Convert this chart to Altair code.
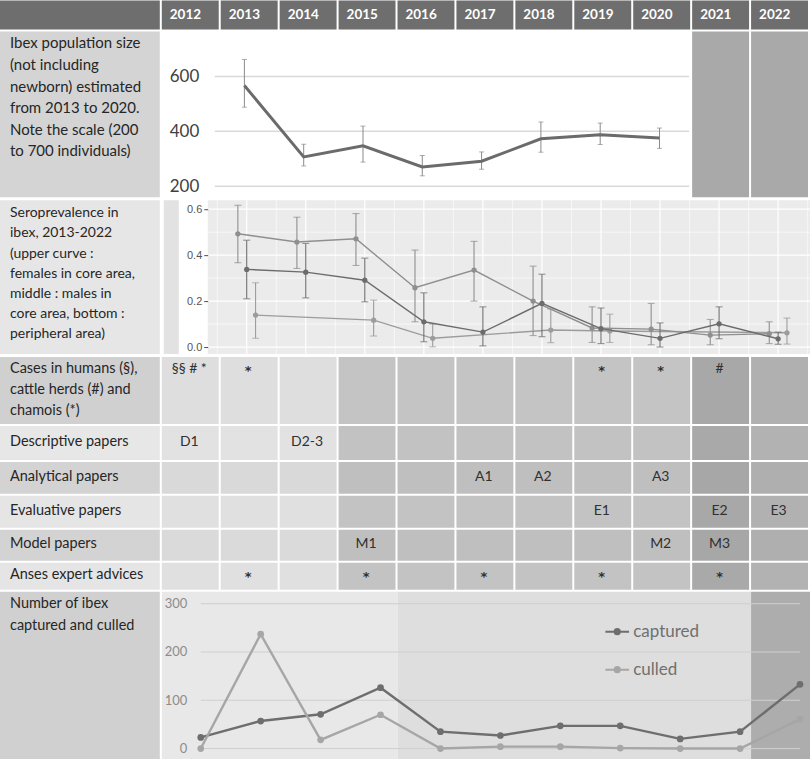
import altair as alt
import pandas as pd

# ---------------- data ----------------
years = [2012, 2013, 2014, 2015, 2016, 2017, 2018, 2019, 2020, 2021, 2022]

pop_years = [2013, 2014, 2015, 2016, 2017, 2018, 2019, 2020]
pop_size = [567, 307, 347, 270, 291, 373, 388, 376]
pop_low = [488, 274, 288, 238, 262, 324, 352, 338]
pop_high = [662, 353, 419, 312, 325, 434, 430, 412]
pop_ticks = [200, 400, 600]

sero_years = [2013, 2014, 2015, 2016, 2017, 2018, 2019, 2020, 2021, 2022]
fem_core = [0.493, 0.457, 0.471, 0.258, 0.335, 0.200, 0.083, 0.078, 0.052, 0.058]
fem_low = [0.367, 0.342, 0.355, 0.110, 0.200, 0.050, 0.020, 0.010, 0.010, 0.015]
fem_high = [0.617, 0.565, 0.581, 0.422, 0.460, 0.352, 0.175, 0.190, 0.120, 0.110]
male_core = [0.338, 0.326, 0.291, 0.110, 0.065, 0.190, 0.080, 0.038, 0.101, 0.036]
male_low = [0.210, 0.214, 0.197, 0.023, 0.005, 0.045, 0.015, 0.000, 0.036, 0.012]
male_high = [0.465, 0.451, 0.387, 0.236, 0.175, 0.317, 0.170, 0.105, 0.175, 0.065]
peri_years = [2013, 2015, 2016, 2018, 2019, 2022]
peri = [0.139, 0.117, 0.038, 0.074, 0.070, 0.062]
peri_low = [0.038, 0.048, 0.001, 0.019, 0.020, 0.013]
peri_high = [0.280, 0.204, 0.100, 0.165, 0.143, 0.126]
sero_ticks = [0.0, 0.2, 0.4, 0.6]
sero_minor = [0.1, 0.3, 0.5]

captured = [23, 57, 71, 126, 35, 27, 47, 47, 20, 35, 133]
culled = [0, 237, 18, 70, 0, 4, 4, 1, 0, 0, 61]
cull_ticks = [0, 100, 200, 300]
cull_series = ["captured", "culled"]

row_titles = {
    "pop": "Ibex population size\n(not including\nnewborn) estimated\nfrom 2013 to 2020.\nNote the scale (200\nto 700 individuals)",
    "sero": "Seroprevalence in\nibex, 2013-2022\n(upper curve :\nfemales in core area,\nmiddle : males in\ncore area, bottom :\nperipheral area)",
    "cases": "Cases in humans (§),\ncattle herds (#) and\nchamois (*)",
    "desc": "Descriptive papers",
    "anal": "Analytical papers",
    "eval": "Evaluative papers",
    "model": "Model papers",
    "anses": "Anses expert advices",
    "cull": "Number of ibex\ncaptured and culled",
}

cell_text = {
    "cases": {2012: "§§ # *", 2013: "*", 2019: "*", 2020: "*", 2021: "#"},
    "desc": {2012: "D1", 2014: "D2-3"},
    "anal": {2017: "A1", 2018: "A2", 2020: "A3"},
    "eval": {2019: "E1", 2021: "E2", 2022: "E3"},
    "model": {2015: "M1", 2020: "M2", 2021: "M3"},
    "anses": {2013: "*", 2015: "*", 2017: "*", 2019: "*", 2021: "*"},
}

# ---------------- layout / style ----------------
FONT = "Lato"
W = 811
LABEL_W = 162
COL_W = 59
GAP = 2
G = GAP / COL_W
X0 = 2011.5 - LABEL_W / COL_W

main_x = alt.Scale(domain=[X0, 2022.5], nice=False, zero=False)
POP_X = alt.Scale(domain=[2012.5, 2020.5], range=[215, 690], nice=False, zero=False)
SERO_DOM = [2012.34, 2022.54]
SERO_X = alt.Scale(domain=SERO_DOM, range=[208, 811], nice=False, zero=False)
CULL_X = alt.Scale(domain=[2012, 2022], range=[201, 801], nice=False, zero=False)
DODGE = 0.15

H = dict(header=29, pop=166, sero=154, cases=67, desc=34, anal=32, eval=32,
         model=31, anses=27, cull=169)

row_colors = {  # label, 2012-14, 2015-20, 2021, 2022
    "cases": ("#d0d0d0", "#dedede", "#c4c4c4", "#a8a8a8", "#b0b0b0"),
    "desc": ("#e7e7e7", "#e2e2e2", "#c2c2c2", "#a9a9a9", "#b2b2b2"),
    "anal": ("#d3d3d3", "#d9d9d9", "#bfbfbf", "#a7a7a7", "#afafaf"),
    "eval": ("#e5e5e5", "#e0e0e0", "#c3c3c3", "#a8a8a8", "#b1b1b1"),
    "model": ("#d3d3d3", "#dadada", "#bfbfbf", "#a7a7a7", "#afafaf"),
    "anses": ("#e5e5e5", "#e0e0e0", "#c3c3c3", "#a9a9a9", "#b2b2b2"),
}


def X(field="x", scale=main_x):
    return alt.X(f"{field}:Q", scale=scale, axis=None)


def bg_layer(label_color, segs):
    rows = [{"x": X0, "x2": 2011.5 - G, "c": label_color}]
    rows += [{"x": a, "x2": b - G, "c": c} for a, b, c in segs]
    return alt.Chart(pd.DataFrame(rows)).mark_rect().encode(
        x=X(), x2="x2:Q", fill=alt.Fill("c:N", scale=None))


def label_layer(key, height, fs=14.5, lh=21.5, top=None):
    df = pd.DataFrame({"x": [X0], "t": [row_titles[key]]})
    if top is None:
        mk = alt.Chart(df).mark_text(align="left", baseline="middle", dx=10, font=FONT,
                                     fontSize=fs, color="#262626")
        return mk.encode(x=X(), y=alt.value(height / 2 - 1), text="t:N")
    mk = alt.Chart(df).mark_text(align="left", baseline="top", dx=10, font=FONT,
                                 fontSize=fs, color="#262626", lineBreak="\n",
                                 lineHeight=lh)
    return mk.encode(x=X(), y=alt.value(top), text="t:N")


def year_segs(colfn):
    return [(y - 0.5, y + 0.5, colfn(y)) for y in years]


rows_out = []

# ---- header ----
hdr_bg = bg_layer("#6e6e6e", year_segs(lambda y: "#6e6e6e"))
hdr_txt = alt.Chart(pd.DataFrame({"x": [y - 0.5 for y in years],
                                  "t": [str(y) for y in years]})).mark_text(
    align="left", baseline="middle", dx=8, font=FONT, fontWeight="bold",
    fontSize=13.5, color="white").encode(x=X(), text="t:N")
rows_out.append(alt.layer(hdr_bg, hdr_txt).properties(width=W, height=H["header"]))

# ---- population row ----
pop_y_scale = alt.Scale(domain=[160, 764], nice=False, zero=False)
pop_axis = alt.Axis(values=pop_ticks, offset=-202, labelPadding=3, domain=False,
                    ticks=False, grid=False, labelFont=FONT, labelFontSize=17,
                    labelColor="#404040", title=None, zindex=1)
PY = alt.Y("v:Q", scale=pop_y_scale, axis=pop_axis)
pop_bg = bg_layer("#d4d4d4", [(2011.5, 2020.5, "#ffffff"), (2020.5, 2021.5, "#a9a9a9"),
                              (2021.5, 2022.5, "#a9a9a9")])
pop_grid = alt.Chart(pd.DataFrame({"v": pop_ticks, "x": [2012.5] * 3, "x2": [2020.5] * 3})
                     ).mark_rule(color="#d9d9d9", strokeWidth=1.5).encode(
    x=X("x", POP_X), x2="x2:Q", y=PY)
pop_df = pd.DataFrame({"x": pop_years, "v": pop_size, "lo": pop_low, "hi": pop_high})
pop_err = alt.Chart(pop_df).mark_rule(color="#8a8a8a", strokeWidth=1).encode(
    x=X("x", POP_X), y=alt.Y("lo:Q", scale=pop_y_scale, axis=pop_axis), y2="hi:Q")
caps_df = pd.DataFrame({"x": pop_years * 2, "v": pop_low + pop_high})
pop_caps = alt.Chart(caps_df).mark_tick(orient="horizontal", color="#8a8a8a",
                                        thickness=1, size=5).encode(x=X("x", POP_X), y=PY)
pop_line = alt.Chart(pop_df).mark_line(color="#6b6b6b", strokeWidth=3).encode(
    x=X("x", POP_X), y=PY)
pop_row = alt.layer(pop_bg, label_layer("pop", H["pop"], fs=15, lh=21.6, top=5),
                    pop_grid, pop_err, pop_caps, pop_line
                    ).resolve_scale(x="independent").properties(width=W, height=H["pop"])
rows_out.append(pop_row)

# ---- seroprevalence row ----
sero_y_scale = alt.Scale(domain=[-0.0304, 0.639], nice=False, zero=False)
sero_axis = alt.Axis(values=sero_ticks, format=".1f", offset=-208, labelPadding=2,
                     domain=False, ticks=True, tickSize=4, tickColor="#4d4d4d",
                     grid=False, labelFont="Liberation Sans", labelFontSize=11,
                     labelColor="#555555", title=None, zindex=1)
SY = alt.Y("v:Q", scale=sero_y_scale, axis=sero_axis)
sero_bg = bg_layer("#e6e6e6", [(2011.5, 2022.5 + G, "#ffffff")])
strip = alt.Chart(pd.DataFrame({"x": [X0 + 164 / COL_W], "x2": [X0 + 179 / COL_W]})
                  ).mark_rect(color="#e2e2e2").encode(x=X(), x2="x2:Q")
panel = alt.Chart(pd.DataFrame({"x": [SERO_DOM[0]], "x2": [SERO_DOM[1]]})
                  ).mark_rect(color="#ebebeb").encode(x=X("x", SERO_X), x2="x2:Q")
hgrid_minor = alt.Chart(pd.DataFrame({"v": sero_minor, "x": [SERO_DOM[0]] * 3,
                                      "x2": [SERO_DOM[1]] * 3})).mark_rule(
    color="white", strokeWidth=0.6).encode(x=X("x", SERO_X), x2="x2:Q", y=SY)
hgrid_major = alt.Chart(pd.DataFrame({"v": sero_ticks, "x": [SERO_DOM[0]] * 4,
                                      "x2": [SERO_DOM[1]] * 4})).mark_rule(
    color="white", strokeWidth=1.2).encode(x=X("x", SERO_X), x2="x2:Q", y=SY)
vgrid_minor = alt.Chart(pd.DataFrame({"x": [y + 0.5 for y in years]})).mark_rule(
    color="white", strokeWidth=0.6).encode(x=X("x", SERO_X))
vgrid_major = alt.Chart(pd.DataFrame({"x": sero_years})).mark_rule(
    color="white", strokeWidth=1.2).encode(x=X("x", SERO_X))

sero_layers = [sero_bg, strip, panel, hgrid_minor, hgrid_major, vgrid_minor, vgrid_major,
               label_layer("sero", H["sero"], fs=14, lh=20.2, top=6)]
series = [
    (peri_years, peri, peri_low, peri_high, +DODGE, "#9c9c9c"),
    (sero_years, fem_core, fem_low, fem_high, -DODGE, "#8f8f8f"),
    (sero_years, male_core, male_low, male_high, 0.0, "#6c6c6c"),
]
for yrs, val, lo, hi, dodge, col in series:
    d = pd.DataFrame({"x": [y + dodge for y in yrs], "v": val, "lo": lo, "hi": hi})
    c = pd.DataFrame({"x": [y + dodge for y in yrs] * 2, "v": lo + hi})
    sero_layers.append(alt.Chart(d).mark_rule(color=col, strokeWidth=1.1).encode(
        x=X("x", SERO_X), y=alt.Y("lo:Q", scale=sero_y_scale, axis=sero_axis), y2="hi:Q"))
    sero_layers.append(alt.Chart(c).mark_tick(orient="horizontal", color=col, thickness=1.1,
                                              size=7).encode(x=X("x", SERO_X), y=SY))
    sero_layers.append(alt.Chart(d).mark_line(color=col, strokeWidth=1.4).encode(
        x=X("x", SERO_X), y=SY))
    sero_layers.append(alt.Chart(d).mark_point(color=col, filled=True, size=28,
                                               opacity=1).encode(x=X("x", SERO_X), y=SY))
sero_row = alt.layer(*sero_layers).resolve_scale(x="independent").properties(
    width=W, height=H["sero"])
rows_out.append(sero_row)

# ---- table rows ----
for key in ["cases", "desc", "anal", "eval", "model", "anses"]:
    lab, light, mid, d21, d22 = row_colors[key]

    def colfn(y, light=light, mid=mid, d21=d21, d22=d22):
        if y <= 2014:
            return light
        if y <= 2020:
            return mid
        return d21 if y == 2021 else d22

    bg = bg_layer(lab, year_segs(colfn))
    lbl = label_layer(key, H[key], fs=14.5, lh=21, top=5 if key == "cases" else None)
    items = cell_text[key]
    words = {y: t for y, t in items.items() if t != "*"}
    stars = [y for y, t in items.items() if t == "*"]
    ty = 12 if key == "cases" else H[key] / 2 - 1
    layers = [bg, lbl]
    if words:
        tdf = pd.DataFrame({"x": list(words.keys()), "t": list(words.values())})
        layers.append(alt.Chart(tdf).mark_text(
            align="center", baseline="middle", dx=-2, font=FONT, fontSize=14,
            color="#303030").encode(x=X(), y=alt.value(ty), text="t:N"))
    if stars:
        sdf = pd.DataFrame({"x": stars, "t": ["*"] * len(stars)})
        layers.append(alt.Chart(sdf).mark_text(
            align="center", baseline="middle", dx=-2, dy=2, font="DejaVu Sans",
            fontSize=13, fontWeight="bold", color="#303030").encode(
            x=X(), y=alt.value(ty), text="t:N"))
    rows_out.append(alt.layer(*layers).properties(width=W, height=H[key]))

# ---- captured / culled row ----
cull_y_scale = alt.Scale(domain=[-24.8, 324.8], nice=False, zero=False)
cull_axis = alt.Axis(values=cull_ticks, offset=-192, labelPadding=5, domain=False,
                     ticks=False, grid=False, labelFont=FONT, labelFontSize=13,
                     labelColor="#8c8c8c", title=None, zindex=1)
CY = alt.Y("v:Q", scale=cull_y_scale, axis=cull_axis)
cull_bg = bg_layer("#d0d0d0", [(2011.5, 2015.5 + G, "#e8e8e8"),
                               (2015.5, 2021.5 + G, "#dedede"),
                               (2021.5, 2022.5 + G, "#adadad")])
cull_grid = alt.Chart(pd.DataFrame({"v": cull_ticks, "x": [2012] * 4, "x2": [2022] * 4})
                      ).mark_rule(color="#cfcfcf", strokeWidth=1).encode(
    x=X("x", CULL_X), x2="x2:Q", y=CY)
cdf = pd.DataFrame({"x": years * 2, "v": captured + culled,
                    "s": [cull_series[0]] * len(years) + [cull_series[1]] * len(years)})
sym = "M-1,0L-0.22,0M0.22,0L1,0M-0.22,0a0.22,0.22 0 1,0 0.44,0a0.22,0.22 0 1,0 -0.44,0"
ccolor = alt.Color("s:N", scale=alt.Scale(domain=cull_series, range=["#6e6e6e", "#a6a6a6"]),
                   legend=alt.Legend(orient="none", legendX=605, legendY=619, title=None,
                                     symbolType=sym, symbolSize=560, symbolStrokeWidth=2,
                                     labelFont=FONT, labelFontSize=17,
                                     labelColor="#707070", rowPadding=17, labelOffset=3,
                                     zindex=1))
cull_line = alt.Chart(cdf).mark_line(strokeWidth=2.4).encode(
    x=X("x", CULL_X), y=CY, color=ccolor, detail="s:N")
cull_pts = alt.Chart(cdf).mark_point(filled=True, size=45, opacity=1).encode(
    x=X("x", CULL_X), y=CY, color=ccolor)
cull_row = alt.layer(cull_bg, label_layer("cull", H["cull"], fs=14.5, lh=22, top=5),
                     cull_grid, cull_line, cull_pts
                     ).resolve_scale(x="independent").properties(width=W, height=H["cull"])
rows_out.append(cull_row)

chart = alt.vconcat(*rows_out, spacing=2).properties(
    padding=0, background="white").configure_view(strokeWidth=0)

chart.save("out.html", embed_options={"renderer": "svg", "actions": False})
